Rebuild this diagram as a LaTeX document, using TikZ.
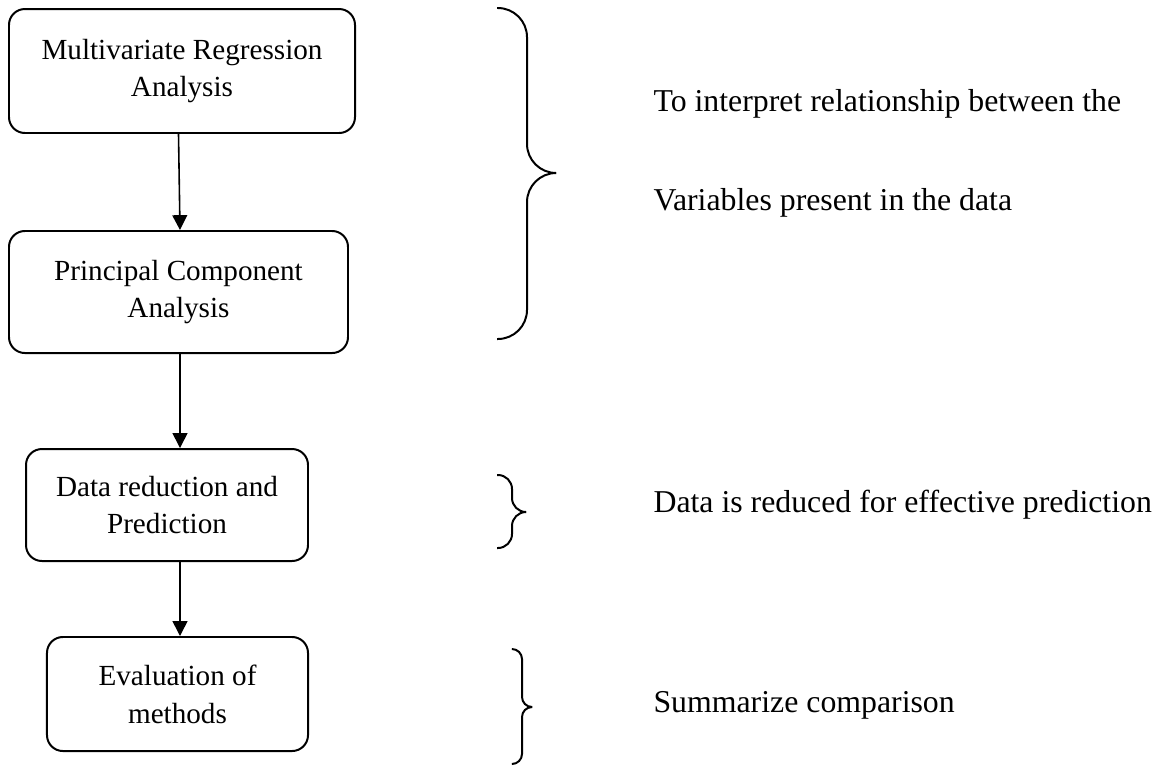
\documentclass[tikz,border=0pt]{standalone}
\usepackage{fontspec}
\setmainfont{Liberation Serif}
\usetikzlibrary{calc, arrows.meta, positioning}

\begin{document}
\begin{tikzpicture}[x=0.01326cm, y=-0.01326cm, >={Triangle[length=5.6pt, width=5.6pt]}]
			\tikzstyle{box} = [draw=black, line width=0.75pt, rectangle, rounded corners=6pt, align=center, inner sep=0pt, font=\fontsize{11}{14.3}\selectfont]
			\tikzstyle{note} = [anchor=base west, inner sep=0pt, font=\fontsize{12}{14.4}\selectfont]
			\tikzstyle{curly} = [line width=0.75pt]
			
			\useasboundingbox (0,0) rectangle (1160,767);
			
			\node[box, minimum width=4.588cm, minimum height=1.644cm] at (182, 71) 	(b1) {Multivariate Regression\\Analysis};
			\node[box, minimum width=4.495cm, minimum height=1.618cm] at (178.5, 292) 	(b2) {Principal Component\\Analysis};
			\node[box, minimum width=3.739cm, minimum height=1.485cm] at (167, 505) 	(b3) {Data reduction and\\Prediction};
			\node[box, minimum width=3.461cm, minimum height=1.512cm] at (177.5, 694) 	(b4) {Evaluation of\\methods};
			
			\node[note] at (653, 111) 	(t1) {To interpret relationship between the};
			\node[note] at (653, 210) 	(t2) {Variables present in the data};
			\node[note] at (653, 512) 	(t3) {Data is reduced for effective prediction};
			\node[note] at (653, 712) 	(t4) {Summarize comparison};
			
			\draw[->, line width=0.6pt] ($(b1.south)+(-3.5,0)$) -- ($(b2.north)+(1.5,0)$);
			\draw[->, line width=0.6pt] ($(b2.south)+(1.5,0)$) -- ($(b3.north)+(13,0)$);
			\draw[->, line width=0.6pt] ($(b3.south)+(13,0)$) -- ($(b4.north)+(2.5,0)$);
			
			% braces
			\draw[curly, rounded corners=11pt] (497, 8) -- (527, 8) -- (527, 173) -- (556, 173);
			\draw[curly, rounded corners=11pt] (497, 339) -- (527, 339) -- (527, 173) -- (556, 173);
			\draw[curly, rounded corners=5.3pt] (497, 475) -- (512, 475) -- (512, 512) -- (526, 512);
			\draw[curly, rounded corners=5.3pt] (497, 548) -- (512, 548) -- (512, 512) -- (526, 512);
			\draw[curly, rounded corners=3.8pt] (512, 649) -- (522, 649) -- (522, 707) -- (532, 707);
			\draw[curly, rounded corners=3.8pt] (512, 764) -- (522, 764) -- (522, 707) -- (532, 707);
\end{tikzpicture}
\end{document}
